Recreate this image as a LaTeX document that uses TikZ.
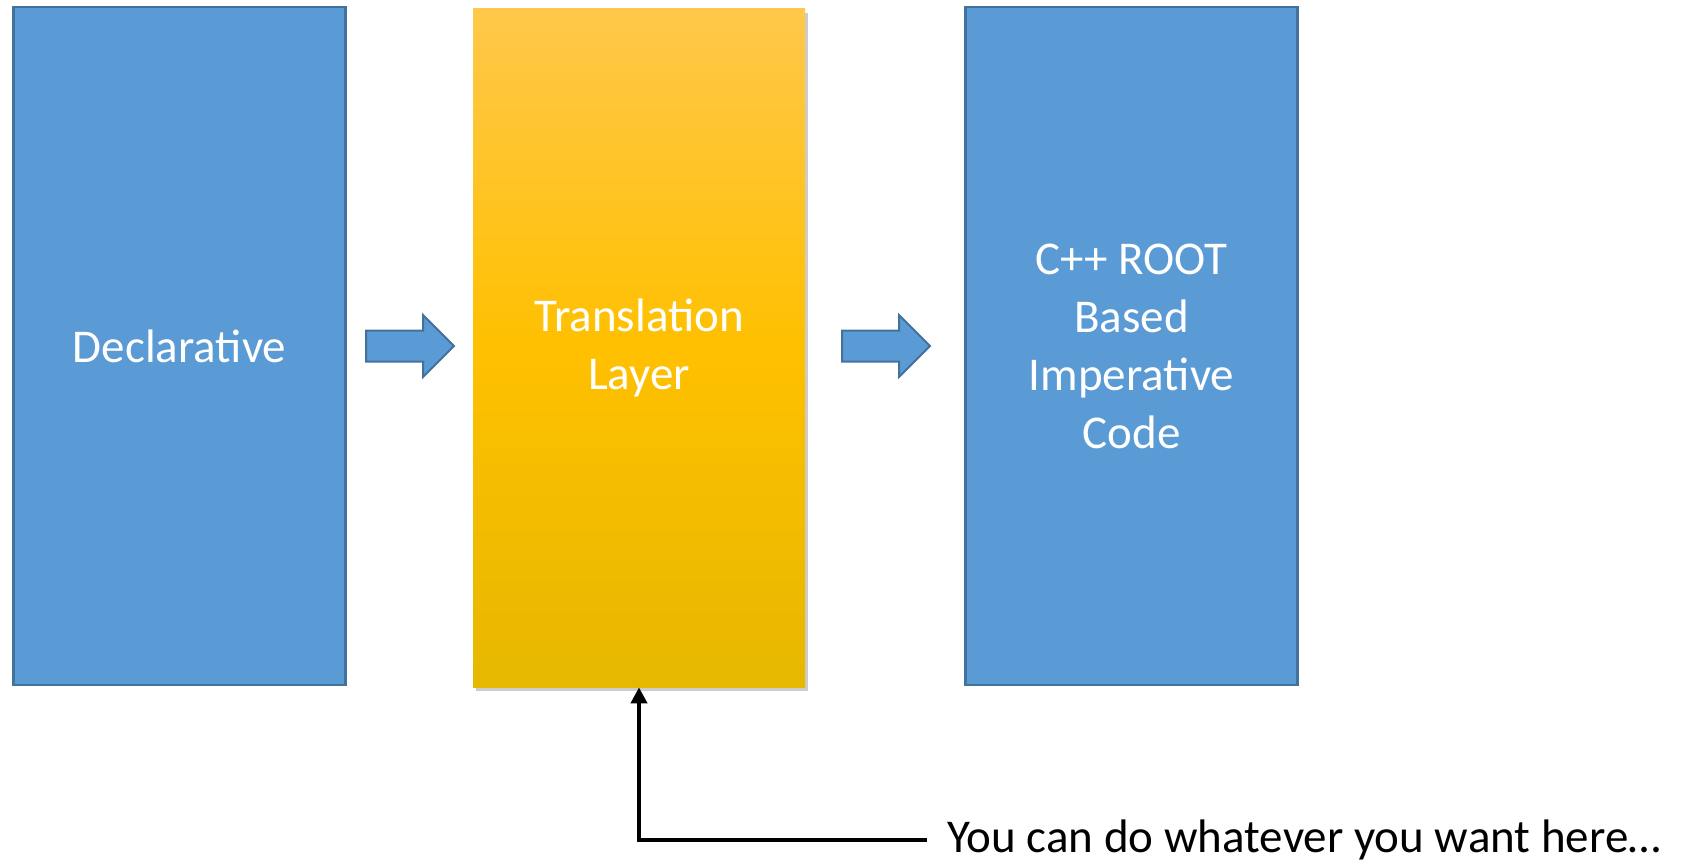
\documentclass[tikz,border=0pt]{standalone}
\usepackage{fontspec}
\setmainfont{Carlito}
\usepackage{tikz}
\usetikzlibrary{positioning,shapes.arrows,shadows,arrows.meta}
\definecolor{boxblue}{HTML}{5B9BD5}
\definecolor{boxline}{HTML}{41719C}
\definecolor{goldtop}{HTML}{FFC84A}
\definecolor{goldmid}{HTML}{FFC000}
\definecolor{goldbot}{HTML}{E6B800}
\tikzset{
  block/.style={rectangle, draw=boxline, line width=1.25pt, fill=boxblue,
    minimum width=166pt, minimum height=339pt, text=white, align=center,
    font=\fontsize{23.5}{29}\selectfont},
  layer/.style={rectangle, minimum width=166pt, minimum height=339pt,
    top color=goldtop, bottom color=goldbot, middle color=goldmid,
    text=white, align=center, font=\fontsize{23.5}{29}\selectfont,
    drop shadow={shadow xshift=1.5pt, shadow yshift=-2pt, opacity=0.4}},
  fatarrow/.style={single arrow, draw=boxline, line width=1pt, fill=boxblue,
    inner xsep=0pt, inner ysep=7.25pt, minimum height=44pt,
    single arrow head extend=7.75pt, single arrow tip angle=90}
}

\begin{document}
\begin{tikzpicture}[x=0.5pt, y=-0.5pt]
  \useasboundingbox (0,0) rectangle (1686,866);

  \node[block] (decl)  at (179.5,346) {Declarative};
  \node[layer] (trans) at (639,348)   {Translation\\Layer};
  \node[block] (imp)   at (1131.5,346) {C++ ROOT\\Based\\Imperative\\Code};

  \node[fatarrow, anchor=tail] (arrA) at (365,346) {};
  \node[fatarrow, anchor=tail] (arrB) at (841,346) {};

  \node[anchor=west, inner xsep=10pt, font=\fontsize{23.5}{29}\selectfont]
    (note) at (927,840) {You can do whatever you want here\ldots};

  \draw[-{Triangle[length=8pt,width=8pt]}, line width=2pt] (note.west) -| (trans.south);
\end{tikzpicture}
\end{document}
